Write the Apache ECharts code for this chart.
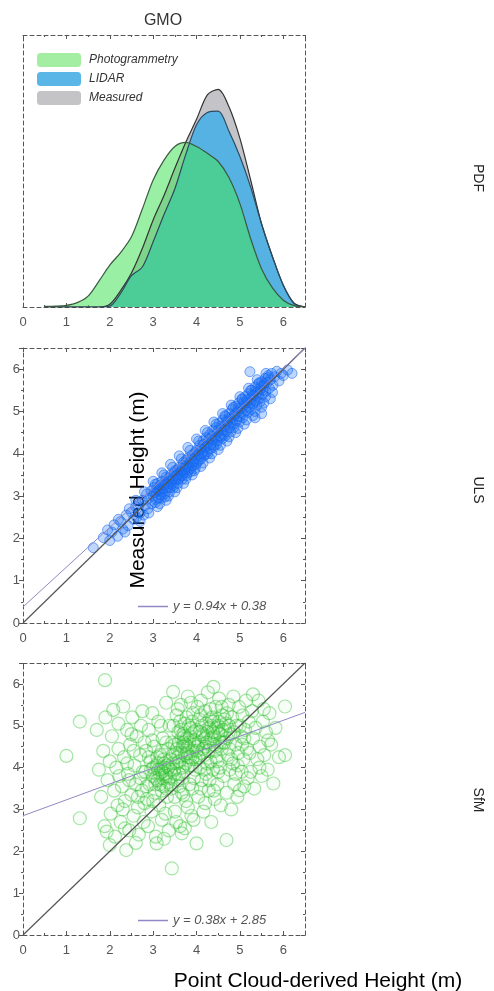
<!DOCTYPE html>
<html>
<head>
<meta charset="utf-8">
<script src="https://cdn.jsdelivr.net/npm/echarts@6/dist/echarts.min.js"></script>
<style>
  html, body { margin: 0; padding: 0; background: #fff; }
  #chart { width: 494px; height: 991px; }
</style>
</head>
<body>
<div id="chart"></div>
<script>
// PDF panel (GMO) - height (m) and relative density
var pdfX = [0.5, 0.75, 1, 1.25, 1.5, 1.75, 2, 2.25, 2.5, 2.75, 3, 3.25, 3.5, 3.75, 4, 4.25, 4.5, 4.75, 5, 5.25, 5.5, 5.75, 6, 6.25, 6.5];
var photogrammetryPdf = [0.002, 0.003, 0.006, 0.016, 0.04, 0.095, 0.154, 0.2, 0.258, 0.36, 0.467, 0.54, 0.59, 0.605, 0.59, 0.565, 0.535, 0.475, 0.38, 0.25, 0.14, 0.07, 0.025, 0.005, 0];
var lidarPdf = [0, 0, 0, 0, 0, 0, 0.003, 0.05, 0.115, 0.147, 0.24, 0.34, 0.435, 0.56, 0.67, 0.715, 0.72, 0.645, 0.553, 0.44, 0.305, 0.185, 0.08, 0.012, 0];
var measuredPdf = [0, 0, 0, 0, 0, 0, 0.01, 0.06, 0.125, 0.215, 0.32, 0.41, 0.51, 0.605, 0.69, 0.78, 0.8, 0.735, 0.62, 0.465, 0.305, 0.185, 0.08, 0.014, 0];

var tickLabels = ['0', '1', '2', '3', '4', '5', '6'];

// ULS: point cloud-derived height vs measured height
var ulsPoints = [
  [1.62,1.78],[1.85,2.02],[1.95,2.2],[2.05,2.15],[2.1,2.32],[2.18,2.05],[2.25,2.4],[2.3,2.22],[2.38,2.55],[2.42,2.3],
  [2.5,2.62],[2.55,2.45],[2.6,2.75],[2.62,2.5],[2.68,2.82],[2.7,2.6],[2.75,2.9],[2.78,2.55],[2.82,2.78],[2.85,3.05],
  [2.88,2.7],[2.9,2.95],[2.95,3.12],[2.97,2.82],
  [3.0,3.0],[3.02,3.2],[3.05,2.85],[3.08,3.1],[3.1,3.3],[3.12,2.95],[3.15,3.18],[3.18,3.02],[3.2,3.35],[3.22,3.1],
  [3.25,3.25],[3.27,2.98],[3.3,3.45],[3.32,3.2],[3.35,3.35],[3.38,3.1],[3.4,3.5],[3.42,3.28],[3.45,3.4],[3.47,3.2],
  [3.5,3.6],[3.52,3.38],[3.55,3.5],[3.57,3.3],[3.6,3.68],[3.62,3.45],[3.65,3.58],[3.67,3.4],[3.7,3.8],[3.72,3.55],
  [3.75,3.7],[3.77,3.48],[3.8,3.9],[3.82,3.62],[3.85,3.78],[3.87,3.58],[3.9,3.98],[3.92,3.72],[3.95,3.88],[3.97,3.65],
  [4.0,4.08],[4.02,3.8],[4.05,3.95],[4.07,4.2],[4.1,3.88],[4.12,4.1],[4.15,4.3],[4.17,3.95],[4.2,4.15],[4.22,4.38],
  [4.25,4.05],[4.27,4.25],[4.3,4.45],[4.32,4.12],[4.35,4.32],[4.37,4.55],[4.4,4.2],[4.42,4.4],[4.45,4.62],[4.47,4.3],
  [4.5,4.5],[4.52,4.72],[4.55,4.38],[4.57,4.58],[4.6,4.8],[4.62,4.45],[4.65,4.65],[4.67,4.88],[4.7,4.55],[4.72,4.75],
  [4.75,4.95],[4.77,4.62],[4.8,4.82],[4.82,5.05],[4.85,4.7],[4.87,4.9],[4.9,5.12],[4.92,4.78],[4.95,5.0],[4.97,5.2],
  [5.0,4.88],[5.02,5.08],[5.05,5.28],[5.07,4.95],[5.1,5.15],[5.12,5.35],[5.15,5.02],[5.17,5.22],[5.2,5.42],[5.22,5.1],
  [5.25,5.3],[5.27,5.5],[5.3,5.18],[5.32,5.38],[5.35,5.58],[5.37,5.25],[5.4,5.45],[5.42,5.65],[5.45,5.32],[5.47,5.52],
  [5.5,5.7],[5.52,5.4],[5.55,5.6],[5.58,5.78],[5.6,5.48],[5.63,5.68],[5.65,5.85],[5.68,5.55],[5.7,5.75],[5.73,5.9],
  [5.76,5.62],[5.8,5.82],[5.85,5.95],[5.9,5.72],[5.95,5.9],[6.0,5.85],[6.1,5.98],[5.23,5.94],[6.2,5.9],[5.5,4.95],[5.35,4.85],
  [3.03,3.08],[3.13,3.12],[3.23,3.18],[3.33,3.28],[3.43,3.35],[3.53,3.48],[3.63,3.55],[3.73,3.65],[3.83,3.72],[3.93,3.82],
  [4.03,3.98],[4.13,4.02],[4.23,4.18],[4.33,4.22],[4.43,4.35],[4.53,4.42],[4.63,4.55],[4.73,4.68],[4.83,4.75],[4.93,4.88],
  [5.03,4.98],[5.13,5.1],[5.23,5.2],[5.33,5.28],[5.43,5.4],[5.53,5.5],
  [3.06,2.92],[3.16,3.25],[3.26,3.05],[3.36,3.42],[3.46,3.25],[3.56,3.62],[3.66,3.48],[3.76,3.85],[3.86,3.65],[3.96,4.02],
  [4.06,3.85],[4.16,4.22],[4.26,4.0],[4.36,4.42],[4.46,4.22],[4.56,4.65],[4.66,4.42],[4.76,4.85],[4.86,4.62],[4.96,5.08],
  [5.06,4.85],[5.16,5.28],[5.26,5.05],[5.36,5.48],[5.46,5.22],[5.56,5.65],
  [3.09,3.15],[3.19,2.95],[3.29,3.32],[3.39,3.2],[3.49,3.55],[3.59,3.4],[3.69,3.72],[3.79,3.55],[3.89,3.88],[3.99,3.75],
  [4.09,4.12],[4.19,3.98],[4.29,4.35],[4.39,4.15],[4.49,4.55],[4.59,4.35],[4.69,4.78],[4.79,4.52],[4.89,4.95],[4.99,4.75],
  [5.09,5.22],[5.19,4.98],[5.29,5.4],[5.39,5.15],[5.49,5.6],[5.59,5.35],
  [3.0,3.35],[3.1,2.75],[3.2,3.55],[3.3,2.9],[3.4,3.75],[3.5,3.1],[3.6,3.95],[3.7,3.3],[3.8,4.15],[3.9,3.5],
  [4.0,4.35],[4.1,3.7],[4.2,4.55],[4.3,3.9],[4.4,4.75],[4.5,4.1],[4.6,4.95],[4.7,4.3],[4.8,5.15],[4.9,4.5],
  [5.0,5.35],[5.1,4.7],[5.2,5.55],[5.3,4.9],[5.4,5.75],[5.5,5.1],[5.6,5.9],[5.7,5.3],
  [3.05,3.28],[3.15,2.82],[3.25,3.5],[3.35,3.0],[3.45,3.68],[3.55,3.2],[3.65,3.88],[3.75,3.4],[3.85,4.08],[3.95,3.6],
  [4.05,4.3],[4.15,3.78],[4.25,4.5],[4.35,4.0],[4.45,4.7],[4.55,4.2],[4.65,4.9],[4.75,4.4],[4.85,5.1],[4.95,4.6],
  [5.05,5.3],[5.15,4.8],[5.25,5.5],[5.35,5.0],[5.45,5.68],[5.55,5.2],[5.65,5.8],[5.75,5.45],
  [2.6,2.9],[2.7,2.4],[2.8,3.1],[2.9,2.6],[2.45,2.7],[2.35,2.15],[2.2,2.45],[2.0,1.95]
];
var ulsOneToOne = [[0, 0], [6.5, 6.5]];
var ulsFit = [[0, 0.38], [6.5, 6.49]];
var ulsFitLabel = 'y = 0.94x + 0.38';

// SfM: point cloud-derived height vs measured height
var sfmPoints = [
  [1.89,6.09],[1.31,5.1],[1.0,4.28],[1.31,2.79],
  [1.7,4.9],[1.75,3.95],[1.8,3.3],[1.85,4.4],[1.88,2.6],[1.9,5.2],[1.95,3.7],[2.0,4.15],[2.02,2.9],[2.05,4.75],
  [2.08,5.38],[2.1,3.45],[2.12,2.35],[2.15,4.0],[2.18,3.1],[2.2,5.05],[2.22,3.8],[1.93,2.47],[2.0,2.15],[2.2,4.45],
  [2.25,2.7],[2.28,3.55],[2.31,5.46],[2.33,4.25],[2.35,3.2],[2.38,2.03],[2.4,4.9],[2.42,3.85],[2.45,2.5],[2.47,4.55],
  [2.5,3.35],[2.52,5.2],[2.55,2.85],[2.57,4.05],[2.6,3.6],[2.62,4.75],[2.65,3.05],[2.67,2.4],[2.7,4.3],[2.72,5.0],
  [2.74,3.45],[2.76,3.9],[2.78,2.7],[2.8,4.6],[2.3,3.0],[2.45,3.7],[2.55,4.4],[2.65,3.3],[2.75,5.35],[2.6,2.2],
  [2.35,2.55],[2.5,4.8],[2.7,3.75],[2.8,3.15],[2.4,4.1],
  [2.82,3.9],[2.84,4.4],[2.86,3.25],[2.88,2.6],[2.9,4.9],[2.92,3.6],[2.94,4.15],[2.96,2.95],[2.98,5.3],[3.0,3.8],
  [3.02,4.5],[3.04,3.4],[3.06,2.35],[3.08,4.05],[3.1,3.7],[3.12,5.1],[3.14,3.1],[3.16,4.3],[3.18,3.95],[3.2,2.75],
  [3.22,4.7],[3.24,3.55],[3.26,4.1],[3.28,3.85],[3.3,5.55],[3.32,3.3],[3.34,4.45],[3.36,2.5],[3.38,3.75],[3.4,4.2],
  [2.85,3.55],[2.95,3.95],[3.05,3.6],[3.15,3.85],[3.25,4.0],[3.35,3.65],[3.0,3.2],[3.1,4.25],[3.2,3.45],[3.3,4.6],
  [2.9,4.25],[3.08,2.19],[3.18,5.0],[3.28,2.9],[3.38,5.0],[3.12,3.95],[3.22,3.75],[3.32,4.05],[2.98,4.65],[3.25,2.3],
  [3.42,3.5],[3.43,1.59],[3.44,4.6],[3.46,5.81],[3.48,3.95],[3.5,2.95],[3.52,4.35],[3.54,5.25],[3.56,3.7],[3.58,4.85],
  [3.6,4.15],[3.62,2.6],[3.64,5.5],[3.66,2.43],[3.66,3.4],[3.68,4.5],[3.7,3.9],[3.72,5.05],[3.74,4.3],[3.76,3.2],
  [3.78,4.7],[3.8,5.7],[3.82,4.05],[3.84,3.6],[3.86,4.95],[3.88,2.85],[3.9,4.4],[3.92,5.3],[3.94,3.75],[3.96,4.65],
  [3.98,4.2],[3.45,4.1],[3.55,4.45],[3.65,4.7],[3.75,4.55],[3.85,4.25],[3.95,4.85],[3.5,3.3],[3.6,3.55],[3.7,3.35],
  [3.8,3.05],[3.9,3.5],[3.47,5.0],[3.57,5.4],[3.67,4.0],[3.77,5.2],[3.87,5.55],[3.97,3.95],[3.53,2.7],[3.63,4.9],
  [3.73,2.55],[3.83,4.6],[3.93,2.75],[3.58,4.25],[3.68,3.75],[3.78,4.35],[3.88,4.05],[3.72,4.75],[3.82,5.0],[3.62,5.1],
  [4.0,2.19],[4.02,4.5],[4.04,3.3],[4.06,5.15],[4.08,4.0],[4.1,5.6],[4.12,3.7],[4.14,4.75],[4.16,2.95],[4.18,4.3],
  [4.2,5.35],[4.22,3.85],[4.24,4.6],[4.26,5.8],[4.28,3.45],[4.3,4.95],[4.32,4.15],[4.34,2.7],[4.36,5.2],[4.38,3.95],
  [4.39,5.93],[4.4,4.55],[4.42,3.25],[4.44,5.45],[4.46,4.25],[4.48,3.6],[4.5,4.85],[4.52,5.65],[4.54,4.0],[4.56,3.1],
  [4.58,4.45],[4.6,5.25],[4.05,4.25],[4.15,4.45],[4.25,4.1],[4.35,4.7],[4.45,4.95],[4.55,4.6],[4.1,3.5],[4.2,3.15],
  [4.3,3.7],[4.4,3.45],[4.5,3.9],[4.12,5.0],[4.22,5.05],[4.32,5.4],[4.42,4.4],[4.52,5.1],[4.08,4.85],[4.18,3.95],
  [4.28,4.4],[4.38,4.85],[4.48,4.15],[4.58,5.45],[4.02,5.45],
  [4.62,3.8],[4.65,4.6],[4.68,5.05],[4.69,2.27],[4.7,3.4],[4.72,4.3],[4.74,5.5],[4.76,3.95],[4.78,4.8],[4.8,3.0],
  [4.82,5.2],[4.84,4.1],[4.85,5.7],[4.87,3.6],[4.9,4.55],[4.92,5.0],[4.94,3.3],[4.96,4.35],[4.98,5.45],[5.0,3.46],
  [5.02,4.75],[5.04,3.9],[5.06,5.25],[5.08,4.2],[5.1,3.55],[5.12,4.9],[5.14,5.6],[5.16,4.45],[5.18,3.75],[5.2,5.1],
  [4.66,4.9],[4.75,4.45],[4.86,4.85],[4.95,4.05],[5.05,4.55],[4.7,5.3],[4.9,3.85],[5.1,4.7],[4.8,4.2],[5.0,5.0],
  [5.22,4.35],[5.25,3.9],[5.28,5.35],[5.3,4.7],[5.33,3.5],[5.36,4.95],[5.4,4.2],[5.43,5.6],[5.46,4.5],[5.5,3.8],
  [5.53,5.1],[5.56,4.3],[5.6,4.85],[5.64,3.95],[5.68,5.3],[5.72,4.55],[5.77,3.62],[5.82,4.95],[5.9,4.25],[6.04,4.3],
  [6.04,5.46],[5.3,5.75],[5.45,4.0],[5.55,5.4],[5.65,4.65],
  [3.0,4.0],[3.05,3.75],[3.1,4.1],[3.15,3.6],[3.2,3.9],[3.25,4.2],[3.3,3.8],[3.35,4.0],[3.4,3.6],[3.45,4.3],
  [3.5,3.85],[3.55,4.1],[3.6,4.6],[3.65,4.35],[3.7,4.8],[3.75,4.1],[3.8,4.5],[3.85,4.75],[3.9,4.2],[3.95,4.55],
  [4.0,4.9],[4.05,4.6],[4.1,4.35],[4.15,4.8],[4.2,4.5],[4.25,4.85],[4.3,4.6],[4.35,5.0],[4.4,4.75],[4.45,4.5],
  [4.5,5.0],[4.55,4.8],[4.6,4.6],[4.65,5.15],[4.7,4.7],[4.75,5.0],[3.2,4.4],[3.4,3.95],[3.6,3.85],[3.8,4.25],
  [4.0,4.4],[4.2,4.7],[4.4,5.1],[4.6,4.9],[3.3,3.5],[3.5,4.55],[3.7,4.6],[3.9,5.1],[4.1,5.25],[4.3,5.15]
];
var sfmOneToOne = [[0, 0], [6.5, 6.5]];
var sfmFit = [[0, 2.85], [6.5, 5.32]];
var sfmFitLabel = 'y = 0.38x + 2.85';

var FONT = '"Liberation Sans", Arial, sans-serif';
var frameColor = '#555';

function xAxes(gridIndex) {
  var base = {
    gridIndex: gridIndex,
    type: 'value',
    min: 0,
    max: 6.5,
    interval: 1,
    splitLine: { show: false },
    axisLine: { show: true, onZero: false, lineStyle: { color: frameColor, type: [4, 3], width: 1 } },
    axisTick: { show: true, inside: true, length: 4, lineStyle: { color: frameColor } },
    minorTick: { show: true, splitNumber: 2, length: 2, lineStyle: { color: frameColor } }
  };
  var bottom = Object.assign({}, base, {
    position: 'bottom',
    axisLabel: {
      show: true, color: '#555', fontSize: 13, fontFamily: FONT, margin: 9, showMaxLabel: false,
      formatter: function (v) { return tickLabels[v] || ''; }
    }
  });
  var top = Object.assign({}, base, { position: 'top', axisLabel: { show: false } });
  return [bottom, top];
}

function yAxes(gridIndex, isPdf) {
  var base = {
    gridIndex: gridIndex,
    type: 'value',
    min: 0,
    max: isPdf ? 1 : 6.5,
    interval: isPdf ? 0.25 : 1,
    splitLine: { show: false },
    axisLine: { show: true, onZero: false, lineStyle: { color: frameColor, type: [4, 3], width: 1 } }
  };
  var left = Object.assign({}, base, {
    position: 'left',
    axisTick: { show: !isPdf, inside: false, length: 4, lineStyle: { color: frameColor } },
    minorTick: { show: !isPdf, splitNumber: 2, length: 2, lineStyle: { color: frameColor } },
    axisLabel: {
      show: !isPdf, color: '#555', fontSize: 13, fontFamily: FONT, margin: 3, showMaxLabel: false,
      formatter: function (v) { return tickLabels[v] || ''; }
    }
  });
  var right = Object.assign({}, base, {
    position: 'right',
    axisTick: { show: !isPdf, inside: true, length: 4, lineStyle: { color: frameColor } },
    minorTick: { show: !isPdf, splitNumber: 2, length: 2, lineStyle: { color: frameColor } },
    axisLabel: { show: false }
  });
  return [left, right];
}

function pairs(xs, ys) {
  return xs.map(function (x, i) { return [x, ys[i]]; });
}

var chart = echarts.init(document.getElementById('chart'));

var option = {
  backgroundColor: '#fff',
  animation: false,
  textStyle: { fontFamily: FONT },
  grid: [
    { left: 23, top: 35, width: 282, height: 272 },
    { left: 23, top: 348, width: 282, height: 275 },
    { left: 23, top: 663, width: 282, height: 272 }
  ],
  xAxis: [].concat(xAxes(0), xAxes(1), xAxes(2)),
  yAxis: [].concat(yAxes(0, true), yAxes(1, false), yAxes(2, false)),
  legend: [
    {
      orient: 'vertical', left: 32, top: 48, icon: 'roundRect',
      itemWidth: 44, itemHeight: 14, itemGap: 5,
      textStyle: { fontStyle: 'italic', fontSize: 12, color: '#333', fontFamily: FONT, padding: [0, 0, 0, 3] },
      data: [
        { name: 'Photogrammetry', itemStyle: { color: '#a3eea3' } },
        { name: 'LIDAR', itemStyle: { color: '#5ab6e6' } },
        { name: 'Measured', itemStyle: { color: '#c4c4c6' } }
      ]
    },
    {
      left: 133, top: 595, icon: 'rect', itemWidth: 30, itemHeight: 1.5,
      textStyle: { fontStyle: 'italic', fontSize: 13, color: '#555', fontFamily: FONT },
      data: [{ name: ulsFitLabel, itemStyle: { color: '#9088c4' } }]
    },
    {
      left: 133, top: 909, icon: 'rect', itemWidth: 30, itemHeight: 1.5,
      textStyle: { fontStyle: 'italic', fontSize: 13, color: '#555', fontFamily: FONT },
      data: [{ name: sfmFitLabel, itemStyle: { color: '#9088c4' } }]
    }
  ],
  series: [
    {
      name: 'Measured', type: 'line', xAxisIndex: 0, yAxisIndex: 0,
      data: pairs(pdfX, measuredPdf), smooth: 0.3, symbol: 'none',
      itemStyle: { color: '#c4c4c6' },
      lineStyle: { color: '#333', width: 1.2 },
      areaStyle: { color: '#c4c4c8', opacity: 1 }
    },
    {
      name: 'LIDAR', type: 'line', xAxisIndex: 0, yAxisIndex: 0,
      data: pairs(pdfX, lidarPdf), smooth: 0.3, symbol: 'none',
      itemStyle: { color: '#5ab6e6' },
      lineStyle: { color: '#2d4a5e', width: 1.2 },
      areaStyle: { color: '#56b2e3', opacity: 1 }
    },
    {
      name: 'Photogrammetry', type: 'line', xAxisIndex: 0, yAxisIndex: 0,
      data: pairs(pdfX, photogrammetryPdf), smooth: 0.3, symbol: 'none',
      itemStyle: { color: '#a3eea3' },
      lineStyle: { color: '#3a5a40', width: 1.2 },
      areaStyle: { color: 'rgba(70,225,90,0.55)', opacity: 1 }
    },
    {
      name: 'ULS 1:1', type: 'line', xAxisIndex: 2, yAxisIndex: 2,
      data: ulsOneToOne, symbol: 'none', lineStyle: { color: '#555', width: 1.2 }
    },
    {
      name: ulsFitLabel, type: 'line', xAxisIndex: 2, yAxisIndex: 2,
      data: ulsFit, symbol: 'none', itemStyle: { color: '#9088c4' },
      lineStyle: { color: '#9088c4', width: 1 }
    },
    {
      name: 'ULS', type: 'scatter', xAxisIndex: 2, yAxisIndex: 2,
      data: ulsPoints, symbol: 'circle', symbolSize: 10,
      itemStyle: { color: 'rgba(25,110,245,0.35)', borderColor: 'rgba(20,100,240,0.7)', borderWidth: 1 }
    },
    {
      name: 'SfM 1:1', type: 'line', xAxisIndex: 4, yAxisIndex: 4,
      data: sfmOneToOne, symbol: 'none', lineStyle: { color: '#555', width: 1.2 }
    },
    {
      name: sfmFitLabel, type: 'line', xAxisIndex: 4, yAxisIndex: 4,
      data: sfmFit, symbol: 'none', itemStyle: { color: '#9088c4' },
      lineStyle: { color: '#9088c4', width: 1 }
    },
    {
      name: 'SfM', type: 'scatter', xAxisIndex: 4, yAxisIndex: 4,
      data: sfmPoints, symbol: 'circle', symbolSize: 13,
      itemStyle: { color: 'rgba(60,200,60,0.05)', borderColor: 'rgba(40,190,40,0.5)', borderWidth: 1.2 }
    }
  ],
  graphic: [
    { type: 'text', x: 163, y: 21, style: { text: 'GMO', font: '16px ' + FONT, fill: '#333', align: 'center', verticalAlign: 'middle' } },
    { type: 'text', x: 478, y: 178, rotation: -Math.PI / 2, style: { text: 'PDF', font: '14px "Liberation Sans Narrow", ' + FONT, fill: '#222', align: 'center', verticalAlign: 'middle' } },
    { type: 'text', x: 478, y: 490, rotation: -Math.PI / 2, style: { text: 'ULS', font: '14px "Liberation Sans Narrow", ' + FONT, fill: '#222', align: 'center', verticalAlign: 'middle' } },
    { type: 'text', x: 478, y: 800, rotation: -Math.PI / 2, style: { text: 'SfM', font: '14px "Liberation Sans Narrow", ' + FONT, fill: '#222', align: 'center', verticalAlign: 'middle' } },
    { type: 'text', x: 138, y: 490, rotation: Math.PI / 2, style: { text: 'Measured Height (m)', font: '21px ' + FONT, fill: '#000', align: 'center', verticalAlign: 'middle' } },
    { type: 'text', x: 318, y: 981, style: { text: 'Point Cloud-derived Height (m)', font: '21px ' + FONT, fill: '#000', align: 'center', verticalAlign: 'middle' } }
  ]
};

chart.setOption(option);
</script>
</body>
</html>
